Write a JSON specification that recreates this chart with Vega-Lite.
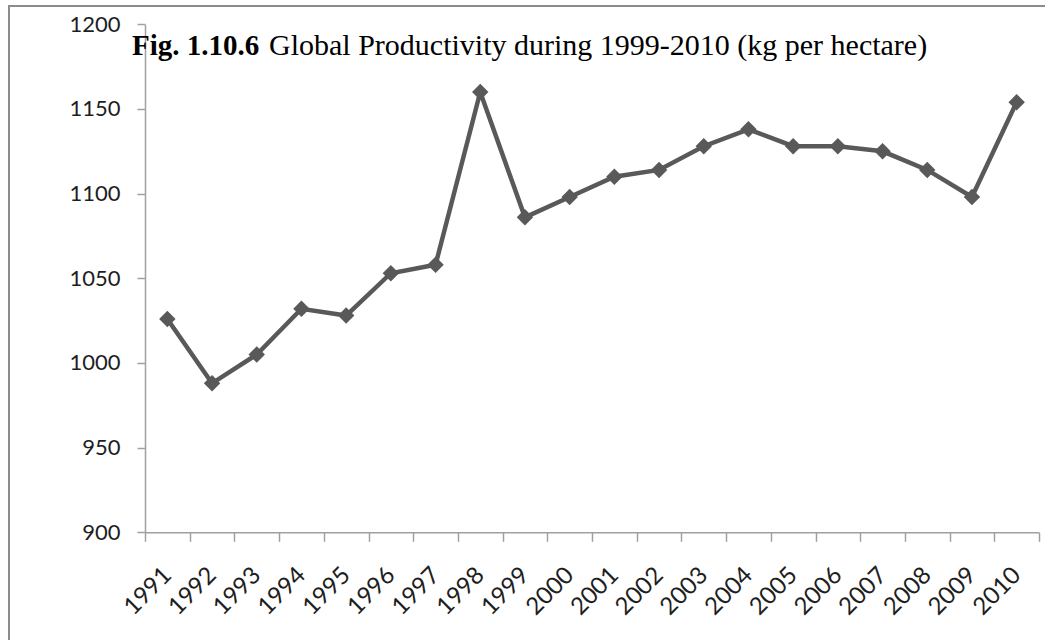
{
  "$schema": "https://vega.github.io/schema/vega-lite/v6.json",
  "width": 1036,
  "height": 634,
  "autosize": {"type": "none"},
  "padding": {"left": 9, "top": 6, "right": 0, "bottom": 0},
  "background": "white",
  "config": {
    "view": {"stroke": "#8c8c8c", "strokeWidth": 2, "strokeDash": [1036, 1670, 634]},
    "font": "Lato"
  },
  "data": {
    "values": [
      {"year": "1991", "yield": 1026},
      {"year": "1992", "yield": 988},
      {"year": "1993", "yield": 1005},
      {"year": "1994", "yield": 1032},
      {"year": "1995", "yield": 1028},
      {"year": "1996", "yield": 1053},
      {"year": "1997", "yield": 1058},
      {"year": "1998", "yield": 1160},
      {"year": "1999", "yield": 1086},
      {"year": "2000", "yield": 1098},
      {"year": "2001", "yield": 1110},
      {"year": "2002", "yield": 1114},
      {"year": "2003", "yield": 1128},
      {"year": "2004", "yield": 1138},
      {"year": "2005", "yield": 1128},
      {"year": "2006", "yield": 1128},
      {"year": "2007", "yield": 1125},
      {"year": "2008", "yield": 1114},
      {"year": "2009", "yield": 1098},
      {"year": "2010", "yield": 1154}
    ]
  },
  "layer": [
    {
      "mark": {"type": "line", "color": "#595959", "strokeWidth": 4.5},
      "encoding": {
        "x": {
          "field": "year",
          "type": "ordinal",
          "scale": {"type": "band", "range": [136, 1030], "paddingInner": 0, "paddingOuter": 0},
          "axis": {
            "title": null,
            "labelAngle": -45,
            "labelAlign": "right",
            "labelBaseline": "middle",
            "labelFont": "Lato",
            "labelFontSize": 24,
            "labelColor": "#1e1e1e",
            "labelPadding": 30,
            "tickBand": "extent",
            "tickSize": 9,
            "tickColor": "#a0a0a0",
            "tickWidth": 1.5,
            "domainColor": "#a0a0a0",
            "domainWidth": 1.5,
            "grid": false,
            "offset": -107.7
          }
        },
        "y": {
          "field": "yield",
          "type": "quantitative",
          "scale": {"domain": [900, 1200], "nice": false, "zero": false, "range": [526.3, 18.3]},
          "axis": {
            "title": null,
            "values": [900, 950, 1000, 1050, 1100, 1150, 1200],
            "format": "d",
            "labelFont": "Lato",
            "labelFontSize": 22,
            "labelColor": "#1e1e1e",
            "labelPadding": 17,
            "tickSize": 8,
            "tickColor": "#a0a0a0",
            "tickWidth": 1.5,
            "domainColor": "#a0a0a0",
            "domainWidth": 1.5,
            "grid": false,
            "offset": -136
          }
        }
      }
    },
    {
      "mark": {"type": "point", "shape": "diamond", "filled": true, "size": 270, "color": "#595959", "opacity": 1},
      "encoding": {
        "x": {"field": "year", "type": "ordinal"},
        "y": {"field": "yield", "type": "quantitative"}
      }
    },
    {
      "data": {"values": [{"part": "number"}]},
      "mark": {"type": "text", "text": "Fig. 1.10.6", "font": "Liberation Serif", "fontSize": 29, "fontWeight": "bold", "align": "left", "baseline": "alphabetic", "dx": -13, "color": "#000000"},
      "encoding": {
        "x": {"datum": "1991", "type": "ordinal", "bandPosition": 0},
        "y": {"datum": 1182, "type": "quantitative"}
      }
    },
    {
      "data": {"values": [{"part": "caption"}]},
      "mark": {"type": "text", "text": "Global Productivity during 1999-2010 (kg per hectare)", "font": "Liberation Serif", "fontSize": 30, "align": "left", "baseline": "alphabetic", "dx": 124, "color": "#000000"},
      "encoding": {
        "x": {"datum": "1991", "type": "ordinal", "bandPosition": 0},
        "y": {"datum": 1182, "type": "quantitative"}
      }
    }
  ]
}
